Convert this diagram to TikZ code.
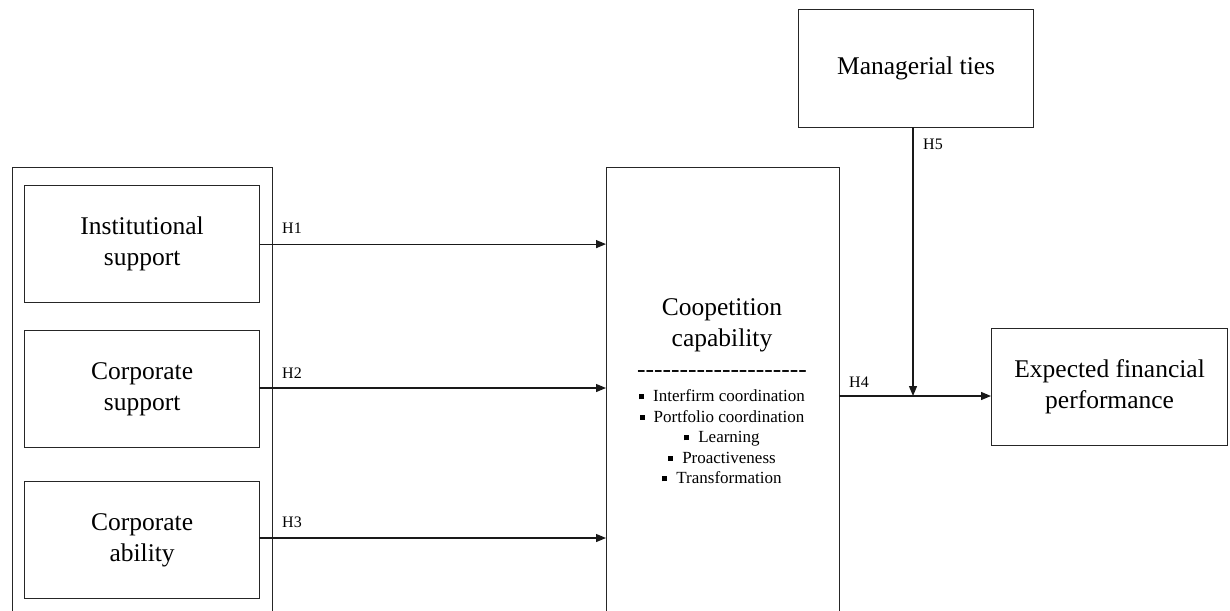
\documentclass[tikz,border=0pt]{standalone}
\usepackage{fontspec}
\setmainfont{Liberation Serif}
\usetikzlibrary{arrows.meta}
\newcommand{\bul}{\rule[2.5pt]{5pt}{5pt}\hspace{9pt}}
\newcommand{\hyf}{-\kern0pt -\kern0pt -\kern0pt -\kern0pt -\kern0pt }
\tikzset{
  box/.style={draw=black!85, line width=1.2pt, inner sep=0pt, anchor=north west},
  lbl/.style={font=\fontsize{25.5}{31}\selectfont, align=center},
  hl/.style={font=\fontsize{16}{19}\selectfont, anchor=base west, inner sep=0pt},
  arr/.style={draw=black!90, line width=1.2pt, -{Triangle[length=10pt,width=8pt]}},
}
\begin{document}
\begin{tikzpicture}[x=1pt,y=-1pt]
\useasboundingbox (0,0) rectangle (1230,610);
\clip (0,0) rectangle (1230,610);
\fill[white] (0,0) rectangle (1230,610);
% outer left group box
\node[box, minimum width=260pt, minimum height=460pt] (grp) at (12,167) {};
% input boxes
\node[box, minimum width=235pt, minimum height=117pt] (inst) at (24,185) {};
\node[lbl] at (inst.center) {Institutional\\support};
\node[box, minimum width=235pt, minimum height=117pt] (corps) at (24,330) {};
\node[lbl] at (corps.center) {Corporate\\support};
\node[box, minimum width=235pt, minimum height=117pt] (corpa) at (24,481) {};
\node[lbl] at (corpa.center) {Corporate\\ability};
% central box
\node[box, minimum width=233pt, minimum height=460pt] (cc) at (606,167) {};
\node[lbl] (cctitle) at (722,325) {Coopetition\\capability};
\node[font=\fontsize{25.5}{31}\selectfont, inner sep=0pt, anchor=base] (ccdash) at (722,377) {\hyf\hyf\hyf\hyf};
\node[font=\fontsize{17}{20.5}\selectfont, align=center, inner sep=0pt] (cclist) at (722,437)
  {\bul Interfirm coordination\\ \bul Portfolio coordination\\ \bul Learning\\ \bul Proactiveness\\ \bul Transformation};
% managerial ties
\node[box, minimum width=235pt, minimum height=118pt] (mt) at (798,9) {};
\node[lbl] at (mt.center) {Managerial ties};
% expected financial performance
\node[box, minimum width=236pt, minimum height=117pt] (efp) at (991,328) {};
\node[lbl] at (efp.center) {Expected financial\\performance};
% connectors
\coordinate (t1) at (cc.west |- inst.east);
\coordinate (t2) at (606,388);
\coordinate (t3) at (606,538);
\coordinate (s2) at (259,388);
\coordinate (s3) at (259,538);
\draw[arr] (inst.east) -- (t1);
\draw[arr] (s2) -- (t2);
\draw[arr] (s3) -- (t3);
\coordinate (h4s) at (839,396);
\coordinate (h4e) at (efp.west |- h4s);
\draw[arr] (h4s) -- (h4e);
\coordinate (m5) at (913,127);
\coordinate (j5) at (913,396);
\draw[arr] (m5) -- (j5);
% labels
\node[hl] at (282,233) {H1};
\node[hl] at (282,378) {H2};
\node[hl] at (282,527) {H3};
\node[hl] at (849,387) {H4};
\node[hl] at (923,149) {H5};
\end{tikzpicture}
\end{document}
